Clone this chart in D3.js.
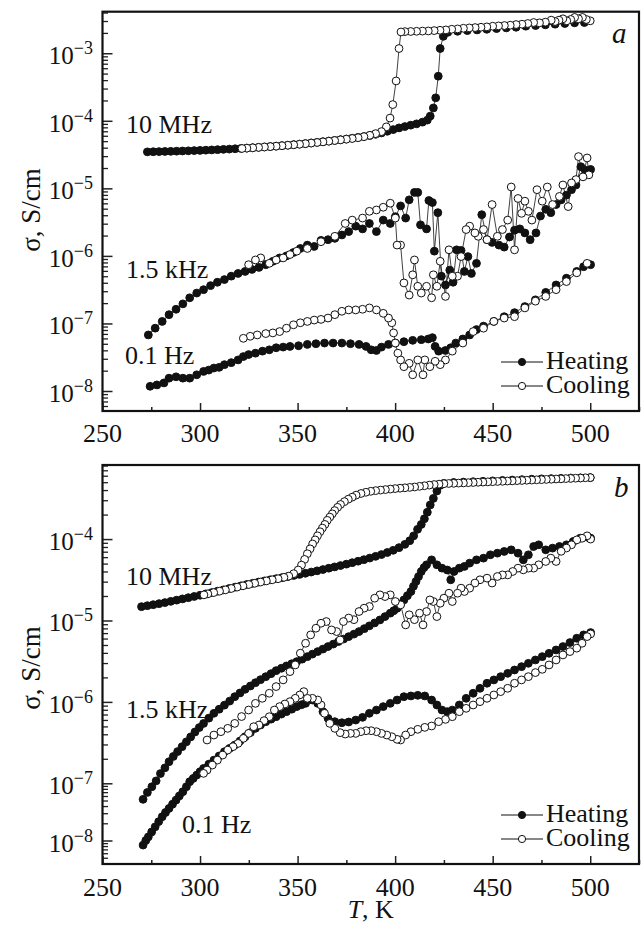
<!DOCTYPE html>
<html>
<head>
<meta charset="utf-8">
<script src="https://cdn.jsdelivr.net/npm/d3@7"></script>
<style>
  body { margin: 0; background: #fff; }
  text { font-family: "Liberation Serif", "Times New Roman", serif; fill: #111; }
</style>
</head>
<body>
<svg id="chart"></svg>
<script>
// ---- data: [T (K), log10 sigma (S/cm)] ----
const tempTicks = [250, 300, 350, 400, 450, 500];
const tempMinor = [275, 325, 375, 425, 475, 525];
const decadesA = [-8, -7, -6, -5, -4, -3];
const decadesB = [-8, -7, -6, -5, -4];
const freqNames = ["10 MHz", "1.5 kHz", "0.1 Hz"];
const legendNames = ["Heating", "Cooling"];

// panel a
const a10Heat = [[273,-4.46],[276,-4.458],[279,-4.456],[282,-4.454],[285,-4.452],[288,-4.45],[291,-4.447],[294,-4.444],[297,-4.441],[300,-4.438],[303,-4.435],[306,-4.431],[309,-4.427],[312,-4.423],[315,-4.419],[318,-4.414],[321,-4.409],[324,-4.404],[327,-4.399],[330,-4.393],[333,-4.387],[336,-4.381],[339,-4.375],[342,-4.368],[345,-4.361],[348,-4.353],[351,-4.345],[354,-4.337],[357,-4.328],[360,-4.319],[363,-4.31],[366,-4.3],[369,-4.29],[372,-4.28],[375,-4.27],[378,-4.258],[381,-4.246],[384,-4.233],[387,-4.218],[390,-4.2],[393,-4.18],[396,-4.155],[399,-4.13],[402,-4.105],[405,-4.085],[408,-4.065],[411,-4.045],[414,-4.02],[416.5,-3.99],[418,-3.93],[419.6,-3.81],[420.8,-3.66],[422.1,-3.34],[423.1,-2.93],[424.7,-2.75],[427,-2.69],[432,-2.675],[437,-2.665],[442,-2.655],[447,-2.645],[452,-2.635],[457,-2.625],[462,-2.615],[467,-2.6],[472,-2.59],[477,-2.58],[482,-2.57],[487,-2.56],[492,-2.55],[497,-2.545]];
const a10Cool = [[500,-2.52],[498,-2.5],[496,-2.47],[494,-2.49],[492,-2.47],[490,-2.5],[488,-2.52],[486,-2.49],[484,-2.51],[482,-2.53],[480,-2.51],[477,-2.54],[474,-2.55],[471,-2.545],[468,-2.56],[465,-2.57],[462,-2.575],[459,-2.585],[456,-2.59],[453,-2.595],[450,-2.6],[447,-2.61],[444,-2.615],[441,-2.62],[438,-2.625],[435,-2.63],[432,-2.64],[429,-2.645],[426,-2.655],[423,-2.66],[420,-2.665],[417,-2.67],[414,-2.672],[411,-2.675],[408,-2.678],[405,-2.68],[403,-2.685],[402,-2.93],[400.5,-3.41],[398.8,-3.76],[397.4,-3.96],[395.5,-4.09],[393,-4.16],[390,-4.19],[387,-4.215],[384,-4.235],[381,-4.25],[378,-4.262],[375,-4.272],[372,-4.282],[369,-4.292],[366,-4.302],[363,-4.312],[360,-4.321],[357,-4.33],[354,-4.339],[351,-4.347],[348,-4.355],[345,-4.362],[342,-4.369],[339,-4.376],[336,-4.382],[333,-4.388],[330,-4.394],[327,-4.4],[324,-4.405],[321.5,-4.41]];
const a15Heat = [[273.5,-7.17],[277,-7.07],[280.6,-6.97],[284.1,-6.87],[287.7,-6.79],[291.2,-6.71],[294.7,-6.62],[298.3,-6.55],[301.8,-6.5],[305.4,-6.44],[308.9,-6.39],[312.5,-6.35],[316,-6.3],[319.5,-6.26],[323.1,-6.23],[326.6,-6.2],[330.2,-6.17],[333.7,-6.13],[337.3,-6.08],[340.8,-6.03],[344.3,-6],[347.9,-5.95],[351.4,-5.89],[355,-5.84],[358.5,-5.86],[362,-5.77],[365.6,-5.76],[369.1,-5.74],[372.7,-5.69],[376.2,-5.64],[379.8,-5.56],[383.3,-5.6],[386.8,-5.52],[390.4,-5.64],[393.9,-5.47],[397.5,-5.52],[400.1,-5.42],[402.8,-5.26],[405.4,-5.44],[407.2,-5.17],[409.9,-5.06],[411.6,-5.06],[413,-5.54],[416.1,-5.6],[417.3,-5.18],[419.1,-5.21],[420.1,-5.93],[421.9,-5.36],[423.7,-6.3],[425.8,-6.43],[428,-6.21],[429.7,-6.39],[431.5,-5.91],[433.8,-5.92],[435.5,-6.23],[437.3,-6.01],[439.1,-6.26],[441.7,-6.11],[444.4,-5.39],[447.1,-5.76],[449.7,-5.8],[453.2,-5.84],[455.9,-5.87],[458.6,-5.72],[461.2,-5.62],[463.9,-5.6],[466.5,-5.66],[469.2,-5.76],[472.2,-5.66],[474.5,-5.41],[477.2,-5.31],[479.8,-5.36],[482.5,-5.24],[485.1,-5.17],[487.8,-5.1],[490.4,-5.02],[492.7,-4.95],[495.2,-4.68],[497.5,-4.73],[500.2,-4.72]];
const a15Cool = [[499.3,-4.8],[498.4,-4.55],[496.3,-4.83],[494,-4.53],[492.7,-4.87],[490.4,-4.92],[488.7,-5.27],[486,-4.95],[484.2,-5.12],[480.7,-5.24],[478,-4.98],[475.4,-5.19],[472.7,-5.02],[470.1,-5.47],[468.3,-5.34],[466.5,-5.19],[464.8,-5.37],[463,-5.15],[461.2,-5.91],[459.5,-4.98],[457.7,-5.47],[455,-5.61],[452.4,-5.71],[449.7,-5.24],[447.1,-5.76],[445.3,-5.61],[442.6,-5.71],[440.9,-5.66],[438.2,-5.56],[436.4,-5.61],[433.8,-6.01],[432,-6.3],[429.3,-6.3],[427.6,-5.91],[425.8,-6.6],[423.1,-6.08],[421.4,-6.45],[419.6,-6.28],[418.7,-6.62],[416.1,-6.45],[413.4,-6.55],[411.6,-6.45],[409.9,-6.06],[409,-6.28],[407.2,-6.58],[404.5,-6.4],[402.8,-5.84],[401,-5.84],[400.1,-5.44],[397.5,-5.22],[393.9,-5.28],[390.4,-5.32],[386.8,-5.34],[383.3,-5.44],[378,-5.47],[374.4,-5.52],[369.1,-5.71],[362,-5.79],[355,-5.89],[349.6,-5.93],[346.1,-5.98],[342.6,-6.03],[339,-6.06],[335.5,-6.11],[331.1,-6.03],[328.4,-6.06],[324.9,-6.13]];
const a01Heat = [[274.4,-7.93],[277.9,-7.91],[281.5,-7.88],[284.1,-7.81],[287.7,-7.79],[291.2,-7.81],[294.7,-7.81],[298.3,-7.76],[301.8,-7.71],[304.5,-7.69],[307.1,-7.66],[309.8,-7.65],[312.5,-7.61],[316,-7.58],[319.5,-7.54],[322.2,-7.49],[324.9,-7.46],[328.4,-7.44],[332,-7.41],[335.5,-7.39],[339,-7.36],[342.6,-7.35],[346.1,-7.34],[350.5,-7.33],[355,-7.31],[359.4,-7.3],[363.8,-7.29],[368.2,-7.29],[372.7,-7.29],[377.1,-7.3],[381.5,-7.31],[385.1,-7.34],[387.7,-7.39],[390.4,-7.4],[393,-7.35],[396.6,-7.31],[400.1,-7.29],[404.5,-7.27],[409,-7.25],[413.4,-7.24],[417,-7.23],[419.1,-7.21],[420.5,-7.34],[422.3,-7.41],[425.8,-7.4],[428.5,-7.36],[431.1,-7.29],[434.7,-7.23],[438.2,-7.17],[441.7,-7.09],[445.3,-7.04],[450.6,-6.97],[455.9,-6.9],[461.2,-6.84],[466.5,-6.75],[471.9,-6.65],[477.2,-6.54],[482.5,-6.43],[487.8,-6.33],[493.1,-6.23],[496.6,-6.16],[500.2,-6.13]];
const a01Cool = [[498.4,-6.11],[493.1,-6.25],[487.8,-6.38],[482.5,-6.5],[477.2,-6.6],[471.9,-6.67],[466.5,-6.77],[461.2,-6.9],[455.9,-6.92],[450.6,-6.97],[445.3,-7.07],[440,-7.12],[434.7,-7.29],[429.3,-7.41],[425.8,-7.54],[423.1,-7.61],[420.5,-7.56],[417.8,-7.64],[415.2,-7.54],[414.3,-7.76],[411.6,-7.54],[409,-7.76],[407.2,-7.59],[404.5,-7.64],[402.8,-7.54],[401.4,-7.44],[400.1,-7.29],[399.2,-7.14],[398.3,-6.99],[396.6,-6.92],[393.9,-6.85],[390.4,-6.8],[386.8,-6.77],[383.3,-6.79],[379.8,-6.8],[376.2,-6.8],[372.7,-6.82],[369.1,-6.87],[365.6,-6.92],[362,-6.94],[358.5,-6.95],[355,-6.97],[351.4,-6.99],[347.9,-7.02],[344.3,-7.07],[340.8,-7.12],[337.3,-7.14],[333.7,-7.15],[329.3,-7.17],[325.7,-7.19],[322.2,-7.22]];

// panel b
const b10Heat = [[270,-4.83],[273,-4.818],[276,-4.806],[279,-4.793],[282,-4.78],[285,-4.765],[288,-4.75],[291,-4.735],[294,-4.72],[297,-4.705],[300,-4.69],[303,-4.673],[306,-4.657],[309,-4.64],[312,-4.624],[315,-4.607],[318,-4.59],[321,-4.574],[324,-4.558],[327,-4.543],[330,-4.528],[333,-4.514],[336,-4.5],[339,-4.487],[342,-4.474],[345,-4.46],[348,-4.447],[351,-4.434],[354,-4.42],[357,-4.405],[360,-4.39],[363,-4.374],[366,-4.358],[369,-4.342],[372,-4.325],[375,-4.308],[378,-4.29],[381,-4.272],[384,-4.253],[387,-4.233],[390,-4.212],[393,-4.19],[396,-4.165],[399,-4.138],[402,-4.105],[405,-4.065],[407.5,-4.02],[409.5,-3.96],[411.5,-3.88],[413.4,-3.82],[415,-3.75],[416.5,-3.67],[418,-3.58],[419.6,-3.5],[421.4,-3.41],[423.1,-3.34],[425,-3.315],[430,-3.305],[435,-3.3],[440,-3.295],[445,-3.29],[450,-3.285],[455,-3.28],[460,-3.275],[465,-3.27],[470,-3.265],[475,-3.26],[480,-3.257],[485,-3.254],[490,-3.25],[495,-3.248],[500,-3.245]];
const b10Cool = [[500,-3.245],[497.5,-3.247],[495,-3.25],[492.5,-3.252],[490,-3.255],[487.5,-3.257],[485,-3.26],[482.5,-3.262],[480,-3.265],[477.5,-3.267],[475,-3.27],[472.5,-3.272],[470,-3.275],[467.5,-3.277],[465,-3.28],[462.5,-3.282],[460,-3.285],[457.5,-3.287],[455,-3.29],[452.5,-3.292],[450,-3.295],[447.5,-3.297],[445,-3.3],[442.5,-3.302],[440,-3.305],[437.5,-3.307],[435,-3.31],[432.5,-3.312],[430,-3.315],[427.5,-3.317],[425,-3.32],[422.5,-3.325],[420,-3.33],[417.5,-3.337],[415,-3.345],[412.5,-3.352],[410,-3.36],[407.5,-3.365],[405,-3.37],[402.5,-3.375],[400,-3.38],[397.5,-3.386],[395,-3.392],[392.5,-3.398],[390,-3.405],[387.5,-3.413],[385,-3.425],[382.5,-3.44],[380,-3.46],[378,-3.485],[376,-3.51],[374,-3.54],[372,-3.575],[370.5,-3.61],[369,-3.65],[367.8,-3.69],[366.5,-3.73],[365.2,-3.77],[364,-3.82],[362.7,-3.865],[361.5,-3.91],[360.2,-3.96],[359,-4.01],[357.7,-4.06],[356.4,-4.12],[355,-4.18],[353.6,-4.25],[352,-4.32],[350.3,-4.38],[348,-4.425],[345.5,-4.455],[343,-4.47],[340,-4.487],[337,-4.5],[334,-4.514],[331,-4.528],[328,-4.543],[325,-4.558],[322,-4.574],[319,-4.59],[316,-4.607],[313,-4.624],[310,-4.64],[307,-4.657],[304,-4.673],[302,-4.685]];
const b15Heat = [[270.8,-7.28],[273,-7.16],[275.3,-7.06],[277.5,-6.97],[279.7,-6.88],[282,-6.81],[284.1,-6.735],[286.3,-6.67],[288.5,-6.61],[290.8,-6.55],[293,-6.49],[295.2,-6.43],[297.4,-6.37],[299.6,-6.315],[301.8,-6.264],[304.5,-6.2],[307.1,-6.14],[309.8,-6.09],[312.5,-6.04],[315.2,-5.99],[317.8,-5.936],[320.5,-5.89],[323.1,-5.845],[325.8,-5.805],[328.4,-5.764],[331,-5.727],[333.7,-5.69],[336.4,-5.653],[339,-5.616],[341.7,-5.587],[344.3,-5.558],[347,-5.531],[349.6,-5.505],[352.3,-5.475],[355,-5.444],[357.6,-5.413],[360.3,-5.382],[363,-5.351],[365.6,-5.32],[368.3,-5.29],[370.9,-5.259],[373.6,-5.228],[376.2,-5.198],[378.9,-5.167],[381.5,-5.136],[384.2,-5.1],[386.8,-5.066],[389.5,-5.03],[392.2,-4.993],[394.8,-4.952],[397.5,-4.91],[399.3,-4.88],[401,-4.85],[402.8,-4.8],[404.5,-4.747],[406.3,-4.695],[408.1,-4.644],[409.4,-4.58],[410.7,-4.52],[412,-4.46],[413.4,-4.398],[414.8,-4.35],[416.1,-4.316],[418.7,-4.255],[421.4,-4.316],[424,-4.357],[426.7,-4.38],[428.5,-4.5],[430.2,-4.398],[432.9,-4.357],[435.5,-4.336],[438.2,-4.295],[441.7,-4.255],[445.3,-4.234],[448.8,-4.193],[452.4,-4.173],[455.9,-4.152],[459.5,-4.132],[463,-4.173],[465.7,-4.255],[468.3,-4.193],[471,-4.091],[473.6,-4.07],[477.2,-4.132],[480.7,-4.111],[484.2,-4.091],[487.8,-4.07],[491.3,-4.029],[494.9,-3.988],[498.4,-3.976],[500.2,-3.988]];
const b15Cool = [[500.2,-4],[498.4,-3.96],[495.8,-3.99],[493.1,-4.01],[490.4,-4.07],[487.8,-4.11],[485.1,-4.15],[482.5,-4.275],[479.8,-4.234],[477.2,-4.275],[473.6,-4.316],[471,-4.357],[468.3,-4.357],[465.7,-4.378],[463,-4.357],[460.3,-4.398],[457.7,-4.44],[455,-4.44],[452.4,-4.46],[449.7,-4.54],[447.1,-4.48],[443.5,-4.5],[440.9,-4.54],[438.2,-4.603],[435.5,-4.644],[433.8,-4.603],[432,-4.665],[429.3,-4.767],[427.6,-4.665],[425,-4.726],[423.1,-4.788],[421.4,-4.952],[419.6,-4.767],[417.8,-4.747],[416.1,-4.89],[414.3,-5.054],[412.5,-4.91],[409.9,-4.99],[407.2,-4.93],[405.4,-5.054],[402.8,-4.808],[400.1,-4.767],[397.5,-4.685],[394.8,-4.706],[392.2,-4.685],[389.5,-4.726],[386.8,-4.828],[384.1,-4.849],[381.5,-4.89],[378.9,-4.99],[376.2,-4.97],[373.5,-5.013],[371.8,-5.239],[370,-5.136],[367.4,-5.116],[364.7,-5.013],[362,-5.034],[359.4,-5.095],[356.7,-5.177],[354.1,-5.28],[351.4,-5.402],[348.8,-5.546],[346.1,-5.628],[342.6,-5.73],[339,-5.812],[335.5,-5.894],[331.9,-5.956],[328.4,-6.018],[324.9,-6.1],[321.3,-6.18],[317.8,-6.264],[314.2,-6.325],[310.7,-6.366],[307.1,-6.407],[303.6,-6.468]];
const b01Heat = [[270.8,-8.08],[272.2,-8],[273.5,-7.936],[275.2,-7.85],[277,-7.761],[278.8,-7.67],[280.6,-7.585],[282.3,-7.51],[284.1,-7.439],[285.9,-7.365],[287.7,-7.293],[289.4,-7.22],[291.2,-7.147],[293,-7.06],[294.7,-6.98],[296.5,-6.94],[298.3,-6.899],[300,-6.858],[301.8,-6.817],[304.5,-6.765],[307.1,-6.715],[309.8,-6.664],[312.5,-6.612],[315.2,-6.57],[317.8,-6.53],[320.5,-6.48],[323.1,-6.428],[325.8,-6.377],[328.4,-6.325],[331,-6.284],[333.7,-6.243],[336.4,-6.212],[339,-6.182],[341.7,-6.15],[344.3,-6.12],[347,-6.09],[349.6,-6.058],[352,-6.035],[354.1,-6.018],[357.6,-5.977],[360.3,-6.018],[363,-6.12],[365.6,-6.202],[369.1,-6.243],[372.7,-6.256],[376.2,-6.247],[379.8,-6.223],[383.3,-6.19],[386.8,-6.14],[390.4,-6.1],[393.9,-6.058],[397.5,-6.018],[401,-5.977],[404.5,-5.936],[408.1,-5.927],[411.6,-5.919],[415.2,-5.927],[418.7,-5.977],[421.4,-6.038],[424,-6.1],[426.7,-6.12],[429.3,-6.1],[432.9,-6.038],[436.4,-5.956],[440,-5.894],[443.5,-5.833],[447.1,-5.771],[450.6,-5.73],[454.1,-5.69],[457.7,-5.649],[461.2,-5.608],[464.8,-5.567],[468.3,-5.526],[471.9,-5.485],[475.4,-5.444],[478.9,-5.403],[482.5,-5.362],[486,-5.32],[489.6,-5.271],[493.1,-5.218],[496.6,-5.177],[500.2,-5.148]];
const b01Cool = [[500.2,-5.165],[498.4,-5.198],[495.8,-5.28],[493.1,-5.34],[489.6,-5.382],[486,-5.423],[482.5,-5.485],[478.9,-5.546],[475.4,-5.6],[471.9,-5.64],[468.3,-5.69],[464.8,-5.73],[461.2,-5.771],[457.7,-5.833],[454.1,-5.874],[450.6,-5.915],[447.1,-5.956],[443.5,-5.997],[440,-6.038],[436.4,-6.079],[432.9,-6.12],[429.3,-6.182],[425.8,-6.215],[422.3,-6.243],[418.7,-6.296],[415.2,-6.313],[411.6,-6.337],[408.1,-6.366],[405.4,-6.407],[402.8,-6.468],[401,-6.46],[398.3,-6.428],[395.7,-6.407],[393,-6.387],[390.4,-6.366],[387.7,-6.354],[385.1,-6.354],[382.4,-6.366],[379.8,-6.387],[377.1,-6.387],[374.4,-6.395],[371.8,-6.378],[369.1,-6.325],[366.5,-6.264],[363.8,-6.14],[362,-6.038],[360.3,-5.977],[357.6,-5.956],[355,-5.956],[353.2,-5.874],[351.1,-5.915],[348.8,-5.956],[346.1,-5.997],[343.5,-6.026],[340.8,-6.058],[338.1,-6.1],[335.5,-6.182],[332.8,-6.23],[330.2,-6.284],[327.5,-6.305],[324.9,-6.387],[322.2,-6.448],[319.5,-6.51],[316.9,-6.55],[314.2,-6.592],[311.6,-6.653],[308.9,-6.715],[306.3,-6.776],[303.6,-6.837],[301.8,-6.878]];

// ---- layout ----
const W = 643, H = 925;
const left = 102.5, right = 639;
const FONT = 26;

const svg = d3.select("#chart").attr("width", W).attr("height", H);
const x = d3.scaleLinear().domain([250, 525]).range([left, right]);

const panels = [
  {
    letter: "a", top: 11.7, bottom: 411,
    y: d3.scaleLog().domain([Math.pow(10, -8.296), Math.pow(10, -2.385)]).range([411, 11.7]),
    decades: decadesA,
    heat: [a10Heat, a15Heat, a01Heat], cool: [a10Cool, a15Cool, a01Cool],
    freqPos: [[126, 133], [126, 278], [125, 364]],
    letterPos: [612, 43], titleY: 210, tickLabelY: 442, legendY: 362
  },
  {
    letter: "b", top: 465, bottom: 864,
    // the printed axis has a shorter lowest decade; keep it piecewise
    y: d3.scaleLog().domain([Math.pow(10, -8.41), 1e-8, 1e-7, Math.pow(10, -3.09)]).range([864, 840.5, 783.3, 465]),
    decades: decadesB,
    heat: [b10Heat, b15Heat, b01Heat], cool: [b10Cool, b15Cool, b01Cool],
    freqPos: [[126, 585], [126, 718], [182, 833]],
    letterPos: [614, 497], titleY: 668, tickLabelY: 896, legendY: 815
  }
];

panels.forEach(p => {
  const g = svg.append("g");
  const y = p.y;

  // minor / major ticks on y
  const lo = y.domain()[0], hi = y.domain()[y.domain().length - 1];
  const yMinor = y.ticks().filter(v => v >= lo && v <= hi &&
    Math.abs(Math.log10(v) - Math.round(Math.log10(v))) > 1e-6);
  const yMajor = p.decades.map(d => Math.pow(10, d));

  g.append("g").attr("transform", `translate(${left},0)`)
    .call(d3.axisLeft(y).tickValues(yMinor).tickSize(-5.5).tickFormat(""))
    .call(s => s.select(".domain").remove())
    .selectAll("line").attr("stroke", "#222").attr("stroke-width", 1.3);
  g.append("g").attr("transform", `translate(${left},0)`)
    .call(d3.axisLeft(y).tickValues(yMajor).tickSize(-10).tickFormat(""))
    .call(s => s.select(".domain").remove())
    .selectAll("line").attr("stroke", "#222").attr("stroke-width", 1.5);

  // x ticks
  g.append("g").attr("transform", `translate(0,${p.bottom})`)
    .call(d3.axisBottom(x).tickValues(tempMinor).tickSize(-4).tickFormat(""))
    .call(s => s.select(".domain").remove())
    .selectAll("line").attr("stroke", "#222").attr("stroke-width", 1.5);
  g.append("g").attr("transform", `translate(0,${p.bottom})`)
    .call(d3.axisBottom(x).tickValues(tempTicks).tickSize(-8).tickFormat(""))
    .call(s => s.select(".domain").remove())
    .selectAll("line").attr("stroke", "#222").attr("stroke-width", 1.5);

  // frame
  g.append("rect")
    .attr("x", left).attr("y", p.top)
    .attr("width", right - left).attr("height", p.bottom - p.top)
    .attr("fill", "none").attr("stroke", "#111").attr("stroke-width", 2.2);

  // y tick labels 10^n
  p.decades.forEach(d => {
    const t = g.append("text")
      .attr("x", 93).attr("y", y(Math.pow(10, d)) + 11)
      .attr("text-anchor", "end").style("font-size", "25px");
    t.append("tspan").text("10");
    t.append("tspan").attr("dy", -10).style("font-size", "18px").text("\u2212" + Math.abs(d));
  });

  // x tick labels
  g.selectAll(".xl").data(tempTicks).enter().append("text")
    .attr("x", d => x(d)).attr("y", p.tickLabelY)
    .attr("text-anchor", "middle").style("font-size", FONT + "px")
    .text(d => d);

  // y title
  g.append("text")
    .attr("transform", `translate(40,${p.titleY}) rotate(-90)`)
    .attr("text-anchor", "middle").style("font-size", "27px")
    .text("\u03c3, S/cm");

  // panel letter
  g.append("text").attr("x", p.letterPos[0]).attr("y", p.letterPos[1])
    .style("font-size", "29px").style("font-style", "italic").text(p.letter);

  // frequency labels
  freqNames.forEach((name, i) => {
    g.append("text").attr("x", p.freqPos[i][0]).attr("y", p.freqPos[i][1])
      .style("font-size", FONT + "px").text(name);
  });

  // data
  const line = d3.line().x(d => x(d[0])).y(d => y(Math.pow(10, d[1])));
  const drawSeries = (data, filled) => {
    g.append("path").datum(data)
      .attr("d", line).attr("fill", "none")
      .attr("stroke", "#111").attr("stroke-width", 0.8);
    g.append("g").selectAll("circle").data(data).enter().append("circle")
      .attr("cx", d => x(d[0])).attr("cy", d => y(Math.pow(10, d[1])))
      .attr("r", 3.9)
      .attr("fill", filled ? "#111" : "#fff")
      .attr("stroke", "#111").attr("stroke-width", 1);
  };
  p.heat.forEach(s => drawSeries(s, true));
  p.cool.forEach(s => drawSeries(s, false));

  // legend
  legendNames.forEach((name, i) => {
    const ly = p.legendY + i * 24;
    g.append("line").attr("x1", 501).attr("x2", 543).attr("y1", ly).attr("y2", ly)
      .attr("stroke", "#111").attr("stroke-width", 1);
    g.append("circle").attr("cx", 522).attr("cy", ly).attr("r", 3.6)
      .attr("fill", i === 0 ? "#111" : "#fff").attr("stroke", "#111").attr("stroke-width", 1);
    g.append("text").attr("x", 546).attr("y", ly + 7)
      .style("font-size", FONT + "px").text(name);
  });
});

// x title (bottom panel only)
const xt = svg.append("text").attr("x", (left + right) / 2).attr("y", 918)
  .attr("text-anchor", "middle").style("font-size", FONT + "px");
xt.append("tspan").style("font-style", "italic").text("T");
xt.append("tspan").text(", K");
</script>
</body>
</html>
